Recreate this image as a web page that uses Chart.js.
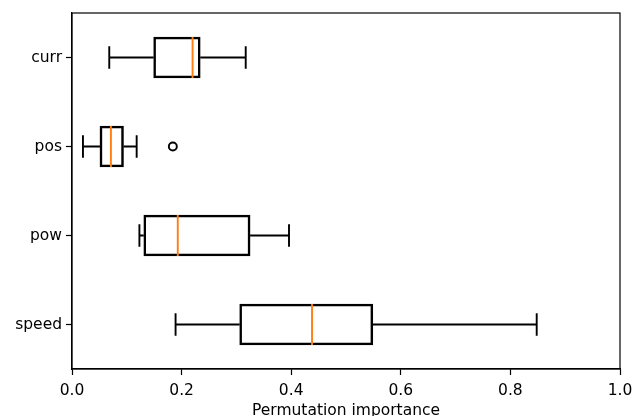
<!DOCTYPE html>
<html>
<head>
<meta charset="utf-8">
<script src="https://cdn.jsdelivr.net/npm/chart.js@4"></script>
<style>
  html, body { margin: 0; padding: 0; background: #fff; }
</style>
</head>
<body>
<canvas id="myChart" width="633" height="416"></canvas>
<script>
'use strict';

// data
const features = ['curr', 'pos', 'pow', 'speed'];
const whiskLow = [0.068, 0.020, 0.123, 0.189];
const q1 = [0.149, 0.051, 0.131, 0.306];
const medians = [0.220, 0.071, 0.193, 0.438];
const q3 = [0.234, 0.094, 0.325, 0.549];
const whiskHigh = [0.317, 0.118, 0.396, 0.848];
const outliers = [[], [0.184], [], []];
const xTicks = [0.0, 0.2, 0.4, 0.6, 0.8, 1.0];

const FONT = { family: 'DejaVu Sans', size: 15.5 };

// whiskers, caps, medians and fliers drawn through the scales
const boxParts = {
  id: 'boxParts',
  afterDatasetsDraw(chart) {
    const ctx = chart.ctx;
    const xs = chart.scales.x;
    const ys = chart.scales.y;
    const bars = chart.getDatasetMeta(0).data;
    ctx.save();
    ctx.lineCap = 'butt';
    for (let i = 0; i < features.length; i++) {
      const y = ys.getPixelForValue(i);
      const half = bars[i].height / 2;
      const cap = half * 0.55;
      const xLo = xs.getPixelForValue(whiskLow[i]);
      const xQ1 = xs.getPixelForValue(q1[i]);
      const xQ3 = xs.getPixelForValue(q3[i]);
      const xHi = xs.getPixelForValue(whiskHigh[i]);
      const xMed = xs.getPixelForValue(medians[i]);

      ctx.strokeStyle = '#000';
      ctx.lineWidth = 1.9;
      ctx.beginPath();
      ctx.moveTo(xLo, y); ctx.lineTo(xQ1, y);
      ctx.moveTo(xQ3, y); ctx.lineTo(xHi, y);
      ctx.moveTo(xLo, y - cap); ctx.lineTo(xLo, y + cap);
      ctx.moveTo(xHi, y - cap); ctx.lineTo(xHi, y + cap);
      ctx.stroke();

      ctx.strokeStyle = '#ff7f0e';
      ctx.beginPath();
      ctx.moveTo(xMed, y - half); ctx.lineTo(xMed, y + half);
      ctx.stroke();

      ctx.strokeStyle = '#000';
      for (const v of outliers[i]) {
        ctx.beginPath();
        ctx.arc(xs.getPixelForValue(v), y, 4, 0, Math.PI * 2);
        ctx.stroke();
      }
    }
    ctx.restore();
  },
  afterDraw(chart) {
    const a = chart.chartArea;
    const ctx = chart.ctx;
    ctx.save();
    ctx.strokeStyle = '#000';
    ctx.lineWidth = 1.2;
    ctx.strokeRect(a.left, a.top, a.right - a.left, a.bottom - a.top);
    ctx.restore();
  }
};

const data = {
  labels: features,
  datasets: [{
    label: 'box',
    data: features.map((f, i) => [q1[i], q3[i]]),
    backgroundColor: 'rgba(0,0,0,0)',
    borderColor: '#000',
    borderWidth: 1.9,
    borderSkipped: false,
    barThickness: 41
  }]
};

const config = {
  type: 'bar',
  data: data,
  options: {
    indexAxis: 'y',
    responsive: false,
    devicePixelRatio: 1,
    animation: false,
    layout: { padding: { top: 13, right: 13, left: 0, bottom: 0 } },
    plugins: { legend: { display: false }, tooltip: { enabled: false } },
    scales: {
      x: {
        type: 'linear',
        min: 0,
        max: 1,
        afterBuildTicks: (scale) => { scale.ticks = xTicks.map(v => ({ value: v })); },
        afterFit: (scale) => {
          scale.height = 47;
          scale.paddingLeft = 0;
          scale.paddingRight = 0;
        },
        ticks: {
          color: '#000',
          font: FONT,
          padding: 7,
          maxRotation: 0,
          callback: (v) => Number(v).toFixed(1)
        },
        grid: { drawOnChartArea: false, drawTicks: true, tickLength: 6, color: '#000', tickWidth: 1.2 },
        border: { color: '#000', width: 1.2 },
        title: {
          display: true,
          text: 'Permutation importance',
          color: '#000',
          font: { family: 'DejaVu Sans', size: 15.5, lineHeight: 0.7 },
          padding: 0
        }
      },
      y: {
        type: 'category',
        offset: true,
        afterFit: (scale) => {
          scale.width = 72;
          scale.paddingTop = 0;
          scale.paddingBottom = 0;
        },
        ticks: { color: '#000', font: FONT, padding: 4 },
        grid: { offset: false, drawOnChartArea: false, drawTicks: true, tickLength: 6, color: '#000', tickWidth: 1.2 },
        border: { color: '#000', width: 1.2 }
      }
    }
  },
  plugins: [boxParts]
};

const myChart = new Chart(document.getElementById('myChart'), config);
</script>
</body>
</html>
